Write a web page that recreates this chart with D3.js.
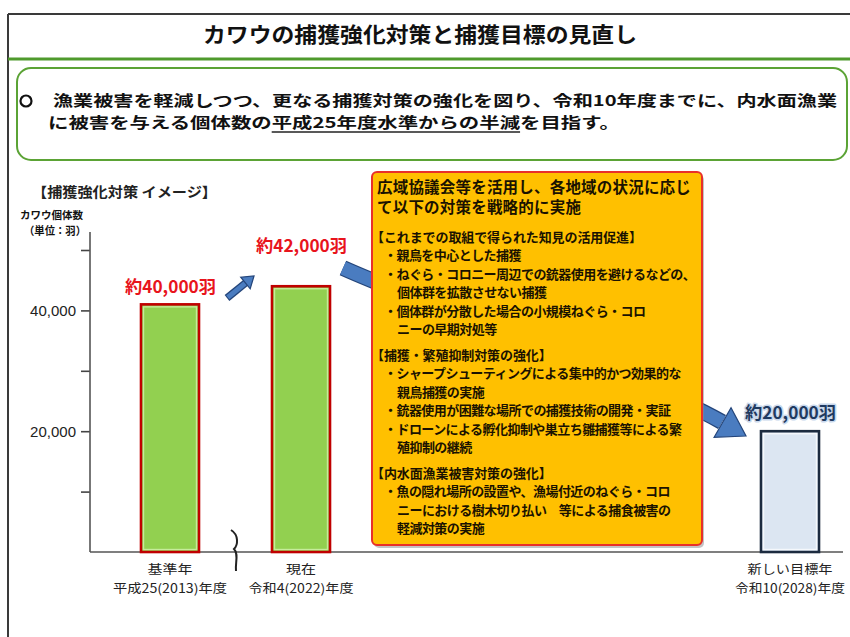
<!DOCTYPE html>
<html>
<head>
<meta charset="utf-8">
<script src="https://cdn.jsdelivr.net/npm/d3@7"></script>
<style>
body { margin: 0; background: #fff; }
text { font-family: "Noto Sans CJK JP", "Noto Sans", sans-serif; }
</style>
</head>
<body>
<svg id="chart" width="850" height="637"></svg>
<script>
// ---- data ----
var categories = ["基準年", "現在", "新しい目標年"];
var periods = ["平成25(2013)年度", "令和4(2022)年度", "令和10(2028)年度"];
var birdCounts = [41000, 44000, 20000];
var barLabels = ["約40,000羽", "約42,000羽", "約20,000羽"];
var yTicks = [10000, 20000, 30000, 40000, 50000];
var yTickLabels = ["", "20,000", "", "40,000", ""];

var title = "カワウの捕獲強化対策と捕獲目標の見直し";
var goalLine1 = "漁業被害を軽減しつつ、更なる捕獲対策の強化を図り、令和10年度までに、内水面漁業";
var goalLine2 = ["に被害を与える個体数の", "平成25年度水準からの半減", "を目指す。"];
var chartTitle = "【捕獲強化対策 イメージ】";
var yAxisTitle = ["カワウ個体数", "（単位：羽）"];

var measureKinds = ["lead", "lead", "head", "bullet", "bullet", "cont", "bullet", "cont",
  "head", "bullet", "cont", "bullet", "bullet", "cont", "head", "bullet", "cont", "cont"];
var measureTexts = [
  "広域協議会等を活用し、各地域の状況に応じ",
  "て以下の対策を戦略的に実施",
  "【これまでの取組で得られた知見の活用促進】",
  "・親鳥を中心とした捕獲",
  "・ねぐら・コロニー周辺での銃器使用を避けるなどの、",
  "個体群を拡散させない捕獲",
  "・個体群が分散した場合の小規模ねぐら・コロ",
  "ニーの早期対処等",
  "【捕獲・繁殖抑制対策の強化】",
  "・シャープシューティングによる集中的かつ効果的な",
  "親鳥捕獲の実施",
  "・銃器使用が困難な場所での捕獲技術の開発・実証",
  "・ドローンによる孵化抑制や巣立ち雛捕獲等による繁",
  "殖抑制の継続",
  "【内水面漁業被害対策の強化】",
  "・魚の隠れ場所の設置や、漁場付近のねぐら・コロ",
  "ニーにおける樹木切り払い　等による捕食被害の",
  "軽減対策の実施"
];

// ---- layout ----
var svg = d3.select("#chart");
var axisX = 90;

var y = d3.scaleLinear().domain([0, 50000]).range([552, 250]);
var x = d3.scaleOrdinal().domain(categories).range([170, 301, 790]);
var barW = 58;
var labelGap = [17, 40, 18];

// frame + title
svg.append("line").attr("x1", 8).attr("x2", 850).attr("y1", 14).attr("y2", 14)
  .attr("stroke", "#3a3a3a").attr("stroke-width", 2);
svg.append("line").attr("x1", 8).attr("x2", 8).attr("y1", 14).attr("y2", 637)
  .attr("stroke", "#3a3a3a").attr("stroke-width", 2);
svg.append("line").attr("x1", 8).attr("x2", 850).attr("y1", 59).attr("y2", 59)
  .attr("stroke", "#4f9a2c").attr("stroke-width", 3);

svg.append("text")
  .attr("x", 203).attr("y", 34).attr("dy", "0.36em")
  .attr("textLength", 434).attr("lengthAdjust", "spacingAndGlyphs")
  .style("font-size", "21px").style("font-weight", "bold").attr("fill", "#111")
  .text(title);

// goal box
svg.append("rect")
  .attr("x", 17).attr("y", 68).attr("width", 830).attr("height", 92).attr("rx", 14)
  .attr("fill", "#fff").attr("stroke", "#5ba335").attr("stroke-width", 2);

svg.append("circle")
  .attr("cx", 26).attr("cy", 101).attr("r", 5.5)
  .attr("fill", "none").attr("stroke", "#111").attr("stroke-width", 2.2);

svg.append("text")
  .attr("x", 53).attr("y", 101).attr("dy", "0.36em")
  .attr("textLength", 784).attr("lengthAdjust", "spacingAndGlyphs")
  .style("font-size", "15px").style("font-weight", "bold").attr("fill", "#111")
  .text(goalLine1);

var g2 = svg.append("text")
  .attr("x", 48).attr("y", 123).attr("dy", "0.36em")
  .attr("textLength", 572).attr("lengthAdjust", "spacingAndGlyphs")
  .style("font-size", "15px").style("font-weight", "bold").attr("fill", "#111");
goalLine2.forEach(function(s) { g2.append("tspan").text(s); });

// underline under the middle part
var uStart = goalLine2[0].length;
var uEnd = uStart + goalLine2[1].length - 1;
var node = g2.node();
var ux1 = node.getStartPositionOfChar(uStart).x;
var ux2 = node.getEndPositionOfChar(uEnd).x;
svg.append("line").attr("x1", ux1).attr("x2", ux2).attr("y1", 132).attr("y2", 132)
  .attr("stroke", "#222").attr("stroke-width", 1.5);

// chart headings
svg.append("text")
  .attr("x", 32).attr("y", 192).attr("dy", "0.36em")
  .attr("textLength", 185).attr("lengthAdjust", "spacingAndGlyphs")
  .style("font-size", "14px").style("font-weight", "bold").attr("fill", "#222")
  .text(chartTitle);

svg.append("text")
  .attr("x", 20).attr("y", 215).attr("dy", "0.36em")
  .attr("textLength", 63).attr("lengthAdjust", "spacingAndGlyphs")
  .style("font-size", "10.5px").style("font-weight", "bold").attr("fill", "#111")
  .text(yAxisTitle[0]);
svg.append("text")
  .attr("x", 24).attr("y", 231).attr("dy", "0.36em")
  .attr("textLength", 62).attr("lengthAdjust", "spacingAndGlyphs")
  .style("font-size", "11px").style("font-weight", "bold").attr("fill", "#111")
  .text(yAxisTitle[1]);

// y axis
var yAxis = svg.append("g")
  .attr("transform", "translate(" + axisX + ",0)")
  .call(d3.axisLeft(y).tickValues(yTicks).tickSize(9).tickPadding(5)
    .tickFormat(function(d, i) { return yTickLabels[i]; }));
yAxis.select(".domain").remove();
yAxis.selectAll(".tick line").attr("stroke", "#444").attr("stroke-width", 1.6);
yAxis.selectAll(".tick text")
  .style("font-family", "'Liberation Sans', Arial, sans-serif")
  .style("font-size", "15px").attr("fill", "#222");

svg.append("line").attr("x1", axisX).attr("x2", axisX).attr("y1", 232).attr("y2", y(0))
  .attr("stroke", "#555").attr("stroke-width", 1.6);
svg.append("line").attr("x1", axisX).attr("x2", 843).attr("y1", y(0)).attr("y2", y(0))
  .attr("stroke", "#555").attr("stroke-width", 1.6);

// axis break mark
svg.append("path")
  .attr("d", "M231,530 C239,535 238,545 234,549 C239,554 235,563 236,571")
  .attr("fill", "none").attr("stroke", "#222").attr("stroke-width", 2);

// bars
var barFill = ["#92d050", "#92d050", "#dce6f2"];
var barStroke = ["#c00000", "#c00000", "#1c2b3f"];
var barInner = ["#c6ec9b", "#c6ec9b", "#f5f8fc"];

svg.selectAll("rect.bar")
  .data(birdCounts)
  .join("rect")
  .attr("class", "bar")
  .attr("x", function(d, i) { return x(categories[i]) - barW / 2; })
  .attr("y", function(d) { return y(d); })
  .attr("width", barW)
  .attr("height", function(d) { return y(0) - y(d); })
  .attr("fill", function(d, i) { return barFill[i]; })
  .attr("stroke", function(d, i) { return barStroke[i]; })
  .attr("stroke-width", 2.6);

svg.selectAll("rect.inner")
  .data(birdCounts)
  .join("rect")
  .attr("class", "inner")
  .attr("x", function(d, i) { return x(categories[i]) - barW / 2 + 2.5; })
  .attr("y", function(d) { return y(d) + 2.5; })
  .attr("width", barW - 5)
  .attr("height", function(d) { return y(0) - y(d) - 5; })
  .attr("fill", "none")
  .attr("stroke", function(d, i) { return barInner[i]; })
  .attr("stroke-width", 1.4);

// bar value labels
var labelFill = ["#e8141c", "#e8141c", "#1f3a60"];
var labelHalo = ["#fff", "#fff", "#c9d8ec"];
svg.selectAll("text.val")
  .data(birdCounts)
  .join("text")
  .attr("class", "val")
  .attr("x", function(d, i) { return x(categories[i]) - 45; })
  .attr("y", function(d, i) { return y(d) - labelGap[i]; })
  .attr("dy", "0.36em")
  .attr("textLength", 91).attr("lengthAdjust", "spacingAndGlyphs")
  .style("font-size", "17px").style("font-weight", "bold")
  .attr("fill", function(d, i) { return labelFill[i]; })
  .attr("stroke", function(d, i) { return labelHalo[i]; })
  .attr("stroke-width", 3).attr("paint-order", "stroke").attr("stroke-linejoin", "round")
  .text(function(d, i) { return barLabels[i]; });

// category labels
var catW = [45, 30, 85];
var perW = [114, 105, 110];
svg.selectAll("text.cat")
  .data(categories)
  .join("text")
  .attr("class", "cat")
  .attr("x", function(d, i) { return x(d) - catW[i] / 2; })
  .attr("y", 569).attr("dy", "0.36em")
  .attr("textLength", function(d, i) { return catW[i]; }).attr("lengthAdjust", "spacingAndGlyphs")
  .style("font-size", "12.5px").attr("fill", "#222")
  .text(function(d) { return d; });
svg.selectAll("text.per")
  .data(periods)
  .join("text")
  .attr("class", "per")
  .attr("x", function(d, i) { return x(categories[i]) - perW[i] / 2; })
  .attr("y", 588).attr("dy", "0.36em")
  .attr("textLength", function(d, i) { return perW[i]; }).attr("lengthAdjust", "spacingAndGlyphs")
  .style("font-size", "12.5px").attr("fill", "#222")
  .text(function(d) { return d; });

// arrows
var arrowFill = "#4a7cc0", arrowEdge = "#24457a";

function arrowHead(tip, dir, len, wid) {
  var n = Math.hypot(dir[0], dir[1]);
  var ux = dir[0] / n, uy = dir[1] / n;
  var bx = tip[0] - ux * len, by = tip[1] - uy * len;
  return [[tip[0], tip[1]], [bx - uy * wid / 2, by + ux * wid / 2], [bx + uy * wid / 2, by - ux * wid / 2]];
}

// small arrow between first two bars
var sStart = [227, 298], sTip = [254, 276];
var sDir = [sTip[0] - sStart[0], sTip[1] - sStart[1]];
var sn = Math.hypot(sDir[0], sDir[1]);
var sEnd = [sTip[0] - sDir[0] / sn * 10, sTip[1] - sDir[1] / sn * 10];
svg.append("line").attr("x1", sStart[0]).attr("y1", sStart[1]).attr("x2", sEnd[0]).attr("y2", sEnd[1])
  .attr("stroke", arrowEdge).attr("stroke-width", 7.5);
svg.append("line").attr("x1", sStart[0] + 0.8).attr("y1", sStart[1] - 0.6).attr("x2", sEnd[0]).attr("y2", sEnd[1])
  .attr("stroke", arrowFill).attr("stroke-width", 5);
svg.append("polygon")
  .attr("points", arrowHead(sTip, sDir, 11, 15).join(" "))
  .attr("fill", arrowFill).attr("stroke", arrowEdge).attr("stroke-width", 1.2);

// large arrow running behind the measures box to the target bar
var bigPath = "M343,268 C450,316 640,375 722,422";
svg.append("path").attr("d", bigPath).attr("fill", "none")
  .attr("stroke", arrowEdge).attr("stroke-width", 16);
svg.append("path").attr("d", bigPath).attr("fill", "none")
  .attr("stroke", arrowFill).attr("stroke-width", 13.5);
svg.append("polygon")
  .attr("points", arrowHead([746, 436], [82, 47], 27, 34).join(" "))
  .attr("fill", arrowFill).attr("stroke", arrowEdge).attr("stroke-width", 1.2);

// measures box
svg.append("rect")
  .attr("x", 374).attr("y", 175).attr("width", 330).attr("height", 373).attr("rx", 5)
  .attr("fill", "#8a8a8a").attr("opacity", 0.5);
svg.append("rect")
  .attr("x", 372).attr("y", 172).attr("width", 330).attr("height", 373).attr("rx", 5)
  .attr("fill", "#ffc000").attr("stroke", "#e8302a").attr("stroke-width", 2);

var lineY = 187, prevKind = null;
var lines = measureTexts.map(function(t, i) {
  var k = measureKinds[i];
  if (prevKind !== null) {
    if (k === "head") lineY += (prevKind === "lead") ? 30 : 25.5;
    else if (k === "lead") lineY += 20;
    else lineY += 18.5;
  }
  prevKind = k;
  return { text: t, kind: k, y: lineY };
});

var kindX = { lead: 377, head: 371, bullet: 384, cont: 397 };
var kindSize = { lead: 15.5, head: 13, bullet: 13, cont: 13 };
var kindSpacing = { lead: 0.2, head: -0.1, bullet: -0.55, cont: -0.55 };

svg.selectAll("text.measure")
  .data(lines)
  .join("text")
  .attr("class", "measure")
  .attr("x", function(d) { return kindX[d.kind]; })
  .attr("y", function(d) { return d.y; })
  .attr("dy", "0.36em")
  .style("font-size", function(d) { return kindSize[d.kind] + "px"; })
  .style("letter-spacing", function(d) { return kindSpacing[d.kind] + "px"; })
  .style("font-weight", "bold")
  .attr("fill", "#1a1200")
  .text(function(d) { return d.text; });
</script>
</body>
</html>
